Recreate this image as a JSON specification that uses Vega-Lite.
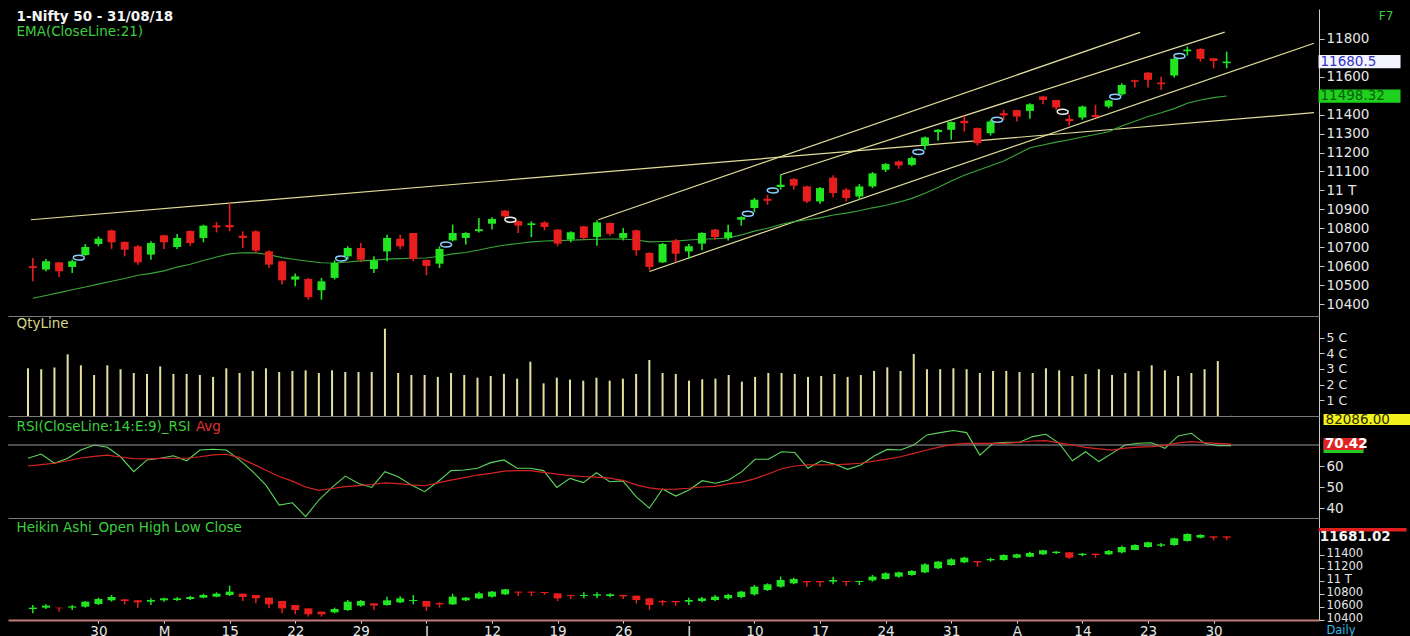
{
"$schema": "https://vega.github.io/schema/vega-lite/v6.json",
"background": "#000000",
"padding": {"left": 7, "top": 9, "right": 0, "bottom": 0},
"spacing": 0,
"bounds": "flush",
"config": {
  "view": {"stroke": null},
  "axis": {"grid": false, "labelFont": "DejaVu Sans", "labelFontSize": 13.5, "labelColor": "#e6e6e6", "domainColor": "#c8c8c8", "tickColor": "#c8c8c8", "labelOverlap": false, "labelSeparation": -20, "labelFlush": false},
  "title": {"anchor": "start", "frame": "group", "font": "DejaVu Sans", "fontSize": 13.5, "fontWeight": "normal", "dx": 8.5}
},
"datasets": {
  "bars": [
{"i":0,"o":10600,"h":10643,"l":10520,"c":10590,"ema":10430,"q":30400000,"rsi":63.7,"avg":60.0,"ho":10569,"hh":10631,"hl":10503,"hc":10590},
{"i":1,"o":10582,"h":10638,"l":10573,"c":10626,"ema":10445,"q":29800000,"rsi":65.7,"avg":60.7,"ho":10590,"hh":10641,"hl":10569,"hc":10621},
{"i":2,"o":10620,"h":10620,"l":10543,"c":10573,"ema":10460,"q":30900000,"rsi":61.3,"avg":61.3,"ho":10590,"hh":10590,"hl":10528,"hc":10580},
{"i":3,"o":10596,"h":10634,"l":10564,"c":10626,"ema":10475,"q":39300000,"rsi":63.7,"avg":62.5,"ho":10590,"hh":10631,"hl":10554,"hc":10610},
{"i":4,"o":10659,"h":10717,"l":10655,"c":10701,"ema":10490,"q":32300000,"rsi":67.6,"avg":63.8,"ho":10605,"hh":10692,"hl":10590,"hc":10682},
{"i":5,"o":10717,"h":10757,"l":10705,"c":10745,"ema":10505,"q":26100000,"rsi":70.0,"avg":64.6,"ho":10646,"hh":10744,"hl":10631,"hc":10723},
{"i":6,"o":10789,"h":10793,"l":10691,"c":10726,"ema":10520,"q":32300000,"rsi":68.9,"avg":65.2,"ho":10703,"hh":10785,"hl":10682,"hc":10754},
{"i":7,"o":10728,"h":10731,"l":10652,"c":10687,"ema":10535,"q":29800000,"rsi":64.4,"avg":64.3,"ho":10718,"hh":10723,"hl":10641,"hc":10692},
{"i":8,"o":10705,"h":10710,"l":10608,"c":10620,"ema":10552,"q":27400000,"rsi":57.3,"avg":63.5,"ho":10703,"hh":10708,"hl":10590,"hc":10672},
{"i":9,"o":10661,"h":10731,"l":10634,"c":10722,"ema":10562,"q":26800000,"rsi":62.9,"avg":63.4,"ho":10682,"hh":10733,"hl":10631,"hc":10708},
{"i":10,"o":10763,"h":10766,"l":10691,"c":10726,"ema":10575,"q":31600000,"rsi":63.7,"avg":63.6,"ho":10703,"hh":10744,"hl":10682,"hc":10733},
{"i":11,"o":10701,"h":10770,"l":10691,"c":10749,"ema":10595,"q":26800000,"rsi":64.9,"avg":63.7,"ho":10708,"hh":10754,"hl":10692,"hc":10733},
{"i":12,"o":10786,"h":10789,"l":10708,"c":10722,"ema":10610,"q":26800000,"rsi":62.5,"avg":63.7,"ho":10723,"hh":10774,"hl":10708,"hc":10754},
{"i":13,"o":10749,"h":10819,"l":10726,"c":10814,"ema":10630,"q":26100000,"rsi":67.6,"avg":64.4,"ho":10744,"hh":10805,"hl":10733,"hc":10785},
{"i":14,"o":10815,"h":10833,"l":10778,"c":10805,"ema":10648,"q":24900000,"rsi":68.0,"avg":65.3,"ho":10759,"hh":10826,"hl":10749,"hc":10805},
{"i":15,"o":10817,"h":10933,"l":10784,"c":10805,"ema":10665,"q":30400000,"rsi":67.6,"avg":65.6,"ho":10785,"hh":10928,"hl":10769,"hc":10836},
{"i":16,"o":10761,"h":10784,"l":10696,"c":10749,"ema":10671,"q":27400000,"rsi":62.9,"avg":64.0,"ho":10805,"hh":10805,"hl":10692,"hc":10754},
{"i":17,"o":10784,"h":10789,"l":10670,"c":10682,"ema":10670,"q":28700000,"rsi":57.3,"avg":61.0,"ho":10785,"hh":10785,"hl":10656,"hc":10733},
{"i":18,"o":10678,"h":10684,"l":10590,"c":10608,"ema":10660,"q":30400000,"rsi":50.9,"avg":58.0,"ho":10744,"hh":10744,"hl":10579,"hc":10641},
{"i":19,"o":10626,"h":10629,"l":10503,"c":10525,"ema":10645,"q":28000000,"rsi":41.4,"avg":55.0,"ho":10692,"hh":10692,"hl":10503,"hc":10579},
{"i":20,"o":10529,"h":10561,"l":10494,"c":10546,"ema":10635,"q":28700000,"rsi":42.5,"avg":52.8,"ho":10631,"hh":10631,"hl":10487,"hc":10554},
{"i":21,"o":10532,"h":10538,"l":10423,"c":10436,"ema":10626,"q":29100000,"rsi":35.9,"avg":50.0,"ho":10579,"hh":10579,"hl":10451,"hc":10487},
{"i":22,"o":10473,"h":10538,"l":10423,"c":10520,"ema":10618,"q":27400000,"rsi":43.8,"avg":48.4,"ho":10528,"hh":10528,"hl":10451,"hc":10487},
{"i":23,"o":10538,"h":10631,"l":10529,"c":10617,"ema":10617,"q":29100000,"rsi":49.8,"avg":49.3,"ho":10518,"hh":10590,"hl":10503,"hc":10569},
{"i":24,"o":10652,"h":10705,"l":10634,"c":10696,"ema":10622,"q":28000000,"rsi":55.2,"avg":50.2,"ho":10554,"hh":10708,"hl":10538,"hc":10682},
{"i":25,"o":10696,"h":10722,"l":10620,"c":10634,"ema":10628,"q":28000000,"rsi":51.7,"avg":50.7,"ho":10621,"hh":10708,"hl":10605,"hc":10692},
{"i":26,"o":10585,"h":10652,"l":10564,"c":10631,"ema":10632,"q":28000000,"rsi":49.8,"avg":51.2,"ho":10656,"hh":10656,"hl":10554,"hc":10621},
{"i":27,"o":10678,"h":10766,"l":10626,"c":10749,"ema":10637,"q":55600000,"rsi":57.3,"avg":52.0,"ho":10631,"hh":10759,"hl":10621,"hc":10703},
{"i":28,"o":10745,"h":10766,"l":10691,"c":10705,"ema":10640,"q":27400000,"rsi":54.9,"avg":51.6,"ho":10672,"hh":10764,"hl":10656,"hc":10733},
{"i":29,"o":10775,"h":10775,"l":10626,"c":10638,"ema":10642,"q":26100000,"rsi":50.9,"avg":51.0,"ho":10692,"hh":10785,"hl":10641,"hc":10708},
{"i":30,"o":10633,"h":10634,"l":10552,"c":10601,"ema":10643,"q":26100000,"rsi":47.8,"avg":50.6,"ho":10692,"hh":10692,"hl":10538,"hc":10605},
{"i":31,"o":10613,"h":10705,"l":10590,"c":10691,"ema":10652,"q":24900000,"rsi":52.5,"avg":52.0,"ho":10661,"hh":10672,"hl":10590,"hc":10641},
{"i":32,"o":10736,"h":10819,"l":10731,"c":10775,"ema":10665,"q":27400000,"rsi":57.8,"avg":53.3,"ho":10641,"hh":10805,"hl":10631,"hc":10759},
{"i":33,"o":10749,"h":10779,"l":10714,"c":10775,"ema":10672,"q":26100000,"rsi":58.1,"avg":54.5,"ho":10703,"hh":10754,"hl":10692,"hc":10744},
{"i":34,"o":10785,"h":10854,"l":10778,"c":10795,"ema":10685,"q":24400000,"rsi":58.9,"avg":55.7,"ho":10733,"hh":10836,"hl":10723,"hc":10810},
{"i":35,"o":10824,"h":10858,"l":10793,"c":10849,"ema":10700,"q":25500000,"rsi":61.6,"avg":56.5,"ho":10759,"hh":10846,"hl":10744,"hc":10836},
{"i":36,"o":10893,"h":10895,"l":10854,"c":10863,"ema":10712,"q":26800000,"rsi":62.9,"avg":57.6,"ho":10795,"hh":10877,"hl":10785,"hc":10872},
{"i":37,"o":10838,"h":10842,"l":10775,"c":10814,"ema":10720,"q":23800000,"rsi":58.9,"avg":57.8,"ho":10836,"hh":10836,"hl":10769,"hc":10821},
{"i":38,"o":10817,"h":10837,"l":10754,"c":10826,"ema":10728,"q":34600000,"rsi":58.9,"avg":57.8,"ho":10836,"hh":10836,"hl":10769,"hc":10821},
{"i":39,"o":10831,"h":10837,"l":10789,"c":10807,"ema":10733,"q":20800000,"rsi":57.8,"avg":57.0,"ho":10831,"hh":10831,"hl":10785,"hc":10816},
{"i":40,"o":10793,"h":10796,"l":10705,"c":10719,"ema":10735,"q":24400000,"rsi":49.8,"avg":56.1,"ho":10810,"hh":10810,"hl":10692,"hc":10733},
{"i":41,"o":10740,"h":10784,"l":10726,"c":10779,"ema":10737,"q":23200000,"rsi":54.1,"avg":55.4,"ho":10785,"hh":10785,"hl":10723,"hc":10769},
{"i":42,"o":10810,"h":10814,"l":10740,"c":10749,"ema":10740,"q":22500000,"rsi":52.1,"avg":55.0,"ho":10769,"hh":10826,"hl":10733,"hc":10785},
{"i":43,"o":10754,"h":10842,"l":10708,"c":10831,"ema":10742,"q":24400000,"rsi":56.8,"avg":54.7,"ho":10774,"hh":10826,"hl":10733,"hc":10795},
{"i":44,"o":10828,"h":10831,"l":10761,"c":10771,"ema":10743,"q":22500000,"rsi":52.5,"avg":54.2,"ho":10769,"hh":10810,"hl":10749,"hc":10795},
{"i":45,"o":10749,"h":10801,"l":10736,"c":10775,"ema":10743,"q":23800000,"rsi":52.9,"avg":53.2,"ho":10785,"hh":10785,"hl":10723,"hc":10764},
{"i":46,"o":10789,"h":10793,"l":10656,"c":10684,"ema":10738,"q":26800000,"rsi":45.4,"avg":51.0,"ho":10774,"hh":10774,"hl":10656,"hc":10708},
{"i":47,"o":10670,"h":10673,"l":10578,"c":10596,"ema":10728,"q":35700000,"rsi":39.9,"avg":49.6,"ho":10733,"hh":10733,"hl":10554,"hc":10631},
{"i":48,"o":10620,"h":10722,"l":10617,"c":10717,"ema":10730,"q":27400000,"rsi":49.1,"avg":48.9,"ho":10692,"hh":10708,"hl":10621,"hc":10672},
{"i":49,"o":10736,"h":10743,"l":10620,"c":10666,"ema":10732,"q":26800000,"rsi":45.7,"avg":49.0,"ho":10692,"hh":10692,"hl":10621,"hc":10672},
{"i":50,"o":10678,"h":10717,"l":10638,"c":10705,"ema":10738,"q":22500000,"rsi":48.6,"avg":49.4,"ho":10682,"hh":10744,"hl":10631,"hc":10708},
{"i":51,"o":10719,"h":10779,"l":10684,"c":10775,"ema":10742,"q":23400000,"rsi":53.0,"avg":50.0,"ho":10692,"hh":10754,"hl":10672,"hc":10733},
{"i":52,"o":10793,"h":10796,"l":10740,"c":10754,"ema":10745,"q":23800000,"rsi":51.8,"avg":50.3,"ho":10708,"hh":10785,"hl":10692,"hc":10759},
{"i":53,"o":10749,"h":10819,"l":10736,"c":10779,"ema":10749,"q":26100000,"rsi":53.3,"avg":51.5,"ho":10733,"hh":10805,"hl":10713,"hc":10785},
{"i":54,"o":10845,"h":10863,"l":10814,"c":10859,"ema":10765,"q":21900000,"rsi":57.3,"avg":52.3,"ho":10754,"hh":10846,"hl":10733,"hc":10836},
{"i":55,"o":10907,"h":10960,"l":10884,"c":10951,"ema":10785,"q":24900000,"rsi":63.2,"avg":54.0,"ho":10795,"hh":10938,"hl":10774,"hc":10913},
{"i":56,"o":10956,"h":10977,"l":10924,"c":10945,"ema":10800,"q":27400000,"rsi":63.2,"avg":56.2,"ho":10862,"hh":10964,"hl":10846,"hc":10949},
{"i":57,"o":11018,"h":11083,"l":11004,"c":11030,"ema":10820,"q":27400000,"rsi":66.8,"avg":58.7,"ho":10913,"hh":11067,"hl":10897,"hc":11015},
{"i":58,"o":11060,"h":11065,"l":11004,"c":11025,"ema":10835,"q":26800000,"rsi":66.4,"avg":60.0,"ho":10964,"hh":11051,"hl":10949,"hc":11031},
{"i":59,"o":11021,"h":11025,"l":10933,"c":10942,"ema":10845,"q":24900000,"rsi":58.9,"avg":60.5,"ho":11000,"hh":11000,"hl":10913,"hc":10980},
{"i":60,"o":10942,"h":11018,"l":10930,"c":11012,"ema":10855,"q":25500000,"rsi":62.5,"avg":60.5,"ho":11000,"hh":11000,"hl":10913,"hc":10980},
{"i":61,"o":11067,"h":11080,"l":10964,"c":10986,"ema":10870,"q":26800000,"rsi":60.9,"avg":60.6,"ho":10990,"hh":11067,"hl":10949,"hc":11015},
{"i":62,"o":11004,"h":11012,"l":10942,"c":10960,"ema":10880,"q":24900000,"rsi":58.4,"avg":60.9,"ho":11000,"hh":11000,"hl":10928,"hc":10985},
{"i":63,"o":10968,"h":11033,"l":10951,"c":11021,"ema":10893,"q":26100000,"rsi":60.5,"avg":61.3,"ho":10985,"hh":11005,"hl":10938,"hc":11000},
{"i":64,"o":11021,"h":11097,"l":11012,"c":11090,"ema":10908,"q":28700000,"rsi":64.8,"avg":62.3,"ho":11010,"hh":11092,"hl":10990,"hc":11067},
{"i":65,"o":11109,"h":11144,"l":11097,"c":11139,"ema":10920,"q":31000000,"rsi":67.9,"avg":63.3,"ho":11031,"hh":11133,"hl":11021,"hc":11118},
{"i":66,"o":11153,"h":11157,"l":11114,"c":11132,"ema":10938,"q":28700000,"rsi":67.6,"avg":64.4,"ho":11067,"hh":11144,"hl":11051,"hc":11133},
{"i":67,"o":11135,"h":11179,"l":11127,"c":11171,"ema":10958,"q":39500000,"rsi":70.0,"avg":66.0,"ho":11092,"hh":11169,"hl":11082,"hc":11154},
{"i":68,"o":11237,"h":11285,"l":11215,"c":11280,"ema":10985,"q":29800000,"rsi":74.8,"avg":67.6,"ho":11133,"hh":11272,"hl":11118,"hc":11256},
{"i":69,"o":11308,"h":11325,"l":11262,"c":11320,"ema":11015,"q":29800000,"rsi":75.9,"avg":69.1,"ho":11195,"hh":11308,"hl":11185,"hc":11297},
{"i":70,"o":11320,"h":11364,"l":11267,"c":11361,"ema":11050,"q":30400000,"rsi":76.9,"avg":70.3,"ho":11246,"hh":11349,"hl":11236,"hc":11333},
{"i":71,"o":11368,"h":11394,"l":11311,"c":11355,"ema":11080,"q":29800000,"rsi":75.9,"avg":70.8,"ho":11287,"hh":11374,"hl":11272,"hc":11359},
{"i":72,"o":11329,"h":11332,"l":11237,"c":11250,"ema":11105,"q":27400000,"rsi":65.2,"avg":70.8,"ho":11308,"hh":11308,"hl":11220,"hc":11287},
{"i":73,"o":11302,"h":11373,"l":11290,"c":11364,"ema":11130,"q":28700000,"rsi":70.8,"avg":70.8,"ho":11318,"hh":11359,"hl":11297,"hc":11338},
{"i":74,"o":11408,"h":11426,"l":11373,"c":11396,"ema":11155,"q":28700000,"rsi":71.3,"avg":70.8,"ho":11323,"hh":11410,"hl":11313,"hc":11400},
{"i":75,"o":11424,"h":11426,"l":11364,"c":11390,"ema":11190,"q":28000000,"rsi":71.3,"avg":71.3,"ho":11359,"hh":11420,"hl":11349,"hc":11410},
{"i":76,"o":11420,"h":11461,"l":11378,"c":11455,"ema":11225,"q":27400000,"rsi":74.0,"avg":71.9,"ho":11374,"hh":11451,"hl":11364,"hc":11431},
{"i":77,"o":11496,"h":11500,"l":11455,"c":11478,"ema":11240,"q":30400000,"rsi":75.1,"avg":72.1,"ho":11410,"hh":11482,"hl":11400,"hc":11472},
{"i":78,"o":11478,"h":11478,"l":11426,"c":11438,"ema":11255,"q":29100000,"rsi":70.8,"avg":71.0,"ho":11431,"hh":11461,"hl":11415,"hc":11451},
{"i":79,"o":11378,"h":11399,"l":11343,"c":11366,"ema":11268,"q":25500000,"rsi":62.5,"avg":70.0,"ho":11441,"hh":11441,"hl":11338,"hc":11359},
{"i":80,"o":11385,"h":11448,"l":11373,"c":11443,"ema":11282,"q":26800000,"rsi":66.8,"avg":68.9,"ho":11400,"hh":11431,"hl":11379,"hc":11420},
{"i":81,"o":11398,"h":11452,"l":11382,"c":11388,"ema":11295,"q":29800000,"rsi":62.1,"avg":68.2,"ho":11420,"hh":11420,"hl":11359,"hc":11400},
{"i":82,"o":11443,"h":11478,"l":11434,"c":11475,"ema":11310,"q":26100000,"rsi":66.0,"avg":67.6,"ho":11410,"hh":11477,"hl":11400,"hc":11461},
{"i":83,"o":11508,"h":11566,"l":11501,"c":11557,"ema":11340,"q":27400000,"rsi":70.0,"avg":68.5,"ho":11441,"hh":11544,"hl":11426,"hc":11523},
{"i":84,"o":11582,"h":11584,"l":11543,"c":11574,"ema":11365,"q":28700000,"rsi":70.8,"avg":69.0,"ho":11477,"hh":11564,"hl":11472,"hc":11554},
{"i":85,"o":11622,"h":11624,"l":11543,"c":11584,"ema":11390,"q":32300000,"rsi":71.1,"avg":69.2,"ho":11523,"hh":11605,"hl":11513,"hc":11595},
{"i":86,"o":11570,"h":11601,"l":11531,"c":11561,"ema":11410,"q":29100000,"rsi":68.4,"avg":69.8,"ho":11544,"hh":11585,"hl":11523,"hc":11564},
{"i":87,"o":11607,"h":11702,"l":11596,"c":11695,"ema":11432,"q":25500000,"rsi":74.3,"avg":71.0,"ho":11554,"hh":11667,"hl":11544,"hc":11656},
{"i":88,"o":11735,"h":11760,"l":11712,"c":11744,"ema":11460,"q":27400000,"rsi":75.6,"avg":71.6,"ho":11615,"hh":11733,"hl":11605,"hc":11723},
{"i":89,"o":11747,"h":11751,"l":11680,"c":11695,"ema":11478,"q":29800000,"rsi":70.8,"avg":71.1,"ho":11667,"hh":11718,"hl":11656,"hc":11708},
{"i":90,"o":11698,"h":11698,"l":11645,"c":11684,"ema":11490,"q":35000000,"rsi":69.7,"avg":70.8,"ho":11687,"hh":11687,"hl":11626,"hc":11667},
{"i":91,"o":11672,"h":11733,"l":11645,"c":11680.5,"ema":11498.32,"q":82086,"rsi":69.7,"avg":70.42,"ho":11687,"hh":11687,"hl":11626,"hc":11667}
  ],
  "trend": [
    {"line":"A","i":-0.15,"v":10845},{"line":"A","i":97.655,"v":11411},
    {"line":"B","i":43.1,"v":10845},{"line":"B","i":84.4,"v":11835},
    {"line":"C","i":57,"v":11083},{"line":"C","i":90.85,"v":11836},
    {"line":"D","i":47,"v":10572},{"line":"D","i":97.655,"v":11777}
  ],
  "rings": [
    {"i":3.5,"v":10645,"kind":"blue"},{"i":23.5,"v":10640,"kind":"blue"},{"i":31.5,"v":10714,"kind":"blue"},
    {"i":36.4,"v":10845,"kind":"white"},{"i":54.5,"v":10877,"kind":"blue"},{"i":56.4,"v":11000,"kind":"blue"},
    {"i":67.5,"v":11203,"kind":"blue"},{"i":73.5,"v":11373,"kind":"blue"},{"i":78.5,"v":11415,"kind":"white"},
    {"i":82.5,"v":11495,"kind":"blue"},{"i":87.4,"v":11710,"kind":"blue"}
  ],
  "tags": [
    {"label":"11680.5","v":11680.5,"kind":"close"},
    {"label":"11498.32","v":11498.32,"kind":"ema"}
  ]
},
"vconcat": [
{
  "width": 1311, "height": 307,
  "title": {"text": "1-Nifty 50 - 31/08/18", "subtitle": "EMA(CloseLine:21)", "color": "#f4f4f4", "fontWeight": "bold", "subtitleColor": "#3ccf3c", "subtitleFont": "DejaVu Sans", "subtitleFontSize": 13.5, "subtitlePadding": 1, "offset": -29},
  "layer": [
    {
      "data": {"name": "trend"},
      "mark": {"type": "line", "color": "#e3dd9a", "strokeWidth": 1.2, "clip": true},
      "encoding": {
        "x": {"field": "i", "type": "quantitative", "title": null, "scale": {"domain": [-1.513, 97.655], "nice": false, "zero": false}, "axis": {"orient": "bottom", "labels": false, "ticks": false, "domain": true, "domainColor": "#7a7a7a"}},
        "y": {"field": "v", "type": "quantitative", "title": null, "scale": {"domain": [10336.7, 11958.2], "nice": false, "zero": false}, "axis": {"orient": "right", "values": [10400,10500,10600,10700,10800,10900,11000,11100,11200,11300,11400,11600,11800], "labelExpr": "datum.value == 11000 ? '11 T' : format(datum.value, 'd')", "tickSize": 5, "labelPadding": 2, "labelOverlap": false, "labelSeparation": -20, "labelFontSize": 13.5}},
        "detail": {"field": "line", "type": "nominal"}
      }
    },
    {
      "data": {"name": "bars"},
      "mark": {"type": "line", "color": "#3aa63a", "strokeWidth": 1.1},
      "encoding": {
        "x": {"field": "i", "type": "quantitative", "title": null, "axis": {"orient": "bottom", "labels": false, "ticks": false, "domain": true, "domainColor": "#7a7a7a"}},
        "y": {"field": "ema", "type": "quantitative", "title": null, "axis": {"orient": "right", "values": [10400,10500,10600,10700,10800,10900,11000,11100,11200,11300,11400,11600,11800], "labelExpr": "datum.value == 11000 ? '11 T' : format(datum.value, 'd')", "tickSize": 5, "labelPadding": 2, "labelOverlap": false, "labelSeparation": -20, "labelFontSize": 13.5}}
      }
    },
    {
      "data": {"name": "bars"},
      "mark": {"type": "rule", "strokeWidth": 1.6},
      "encoding": {
        "x": {"field": "i", "type": "quantitative", "title": null, "axis": {"orient": "bottom", "labels": false, "ticks": false, "domain": true, "domainColor": "#7a7a7a"}},
        "y": {"field": "l", "type": "quantitative", "title": null, "axis": {"orient": "right", "values": [10400,10500,10600,10700,10800,10900,11000,11100,11200,11300,11400,11600,11800], "labelExpr": "datum.value == 11000 ? '11 T' : format(datum.value, 'd')", "tickSize": 5, "labelPadding": 2, "labelOverlap": false, "labelSeparation": -20, "labelFontSize": 13.5}},
        "y2": {"field": "h"},
        "color": {"condition": {"test": "datum.c >= datum.o", "value": "#22e622"}, "value": "#e81e1e"}
      }
    },
    {
      "data": {"name": "bars"},
      "mark": {"type": "bar", "width": 8},
      "encoding": {
        "x": {"field": "i", "type": "quantitative", "title": null, "axis": {"orient": "bottom", "labels": false, "ticks": false, "domain": true, "domainColor": "#7a7a7a"}},
        "y": {"field": "o", "type": "quantitative", "title": null, "axis": {"orient": "right", "values": [10400,10500,10600,10700,10800,10900,11000,11100,11200,11300,11400,11600,11800], "labelExpr": "datum.value == 11000 ? '11 T' : format(datum.value, 'd')", "tickSize": 5, "labelPadding": 2, "labelOverlap": false, "labelSeparation": -20, "labelFontSize": 13.5}},
        "y2": {"field": "c"},
        "color": {"condition": {"test": "datum.c >= datum.o", "value": "#22e622"}, "value": "#e81e1e"}
      }
    },
    {
      "data": {"name": "rings"},
      "mark": {"type": "point", "shape": "M-1,0A1,0.45 0 1,0 1,0A1,0.45 0 1,0 -1,0Z", "filled": false, "size": 121, "strokeWidth": 1.5, "opacity": 1},
      "encoding": {
        "x": {"field": "i", "type": "quantitative", "title": null, "axis": {"orient": "bottom", "labels": false, "ticks": false, "domain": true, "domainColor": "#7a7a7a"}},
        "y": {"field": "v", "type": "quantitative", "title": null, "axis": {"orient": "right", "values": [10400,10500,10600,10700,10800,10900,11000,11100,11200,11300,11400,11600,11800], "labelExpr": "datum.value == 11000 ? '11 T' : format(datum.value, 'd')", "tickSize": 5, "labelPadding": 2, "labelOverlap": false, "labelSeparation": -20, "labelFontSize": 13.5}},
        "stroke": {"field": "kind", "type": "nominal", "scale": {"domain": ["blue", "white"], "range": ["#8ccfff", "#f2f2f2"]}, "legend": null}
      }
    },
    {
      "data": {"name": "tags"},
      "mark": {"type": "point", "shape": "M0,-0.16L2,-0.16L2,0.16L0,0.16Z", "filled": true, "size": 6724, "opacity": 1, "strokeWidth": 0},
      "encoding": {
        "x": {"datum": 98.0, "type": "quantitative", "title": null, "axis": {"orient": "bottom", "labels": false, "ticks": false, "domain": true, "domainColor": "#7a7a7a"}},
        "y": {"field": "v", "type": "quantitative", "title": null, "axis": {"orient": "right", "values": [10400,10500,10600,10700,10800,10900,11000,11100,11200,11300,11400,11600,11800], "labelExpr": "datum.value == 11000 ? '11 T' : format(datum.value, 'd')", "tickSize": 5, "labelPadding": 2, "labelOverlap": false, "labelSeparation": -20, "labelFontSize": 13.5}},
        "fill": {"field": "kind", "type": "nominal", "scale": {"domain": ["close", "ema"], "range": ["#f4f4ff", "#1fd11f"]}, "legend": null}
      }
    },
    {
      "data": {"name": "tags"},
      "mark": {"type": "text", "align": "left", "baseline": "middle", "font": "DejaVu Sans", "fontSize": 13.5},
      "encoding": {
        "x": {"datum": 98.15, "type": "quantitative", "title": null, "axis": {"orient": "bottom", "labels": false, "ticks": false, "domain": true, "domainColor": "#7a7a7a"}},
        "y": {"field": "v", "type": "quantitative", "title": null, "axis": {"orient": "right", "values": [10400,10500,10600,10700,10800,10900,11000,11100,11200,11300,11400,11600,11800], "labelExpr": "datum.value == 11000 ? '11 T' : format(datum.value, 'd')", "tickSize": 5, "labelPadding": 2, "labelOverlap": false, "labelSeparation": -20, "labelFontSize": 13.5}},
        "text": {"field": "label"},
        "color": {"condition": {"test": "datum.kind == 'close'", "value": "#3232c8"}, "value": "#0b5e0b"}
      }
    },
    {
      "data": {"values": [{}]},
      "mark": {"type": "text", "align": "left", "baseline": "middle", "font": "DejaVu Sans", "fontSize": 12, "color": "#3ccf3c"},
      "encoding": {
        "x": {"datum": 102.6, "type": "quantitative", "title": null, "axis": {"orient": "bottom", "labels": false, "ticks": false, "domain": true, "domainColor": "#7a7a7a"}},
        "y": {"datum": 11920, "type": "quantitative", "title": null, "axis": {"orient": "right", "values": [10400,10500,10600,10700,10800,10900,11000,11100,11200,11300,11400,11600,11800], "labelExpr": "datum.value == 11000 ? '11 T' : format(datum.value, 'd')", "tickSize": 5, "labelPadding": 2, "labelOverlap": false, "labelSeparation": -20, "labelFontSize": 13.5}},
        "text": {"value": "F7"}
      }
    }
  ]
},
{
  "width": 1311, "height": 100,
  "title": {"text": "QtyLine", "color": "#d8d88c", "offset": -14.5},
  "layer": [
    {
      "data": {"name": "bars"},
      "mark": {"type": "rule", "color": "#e4e0a0", "strokeWidth": 2},
      "encoding": {
        "x": {"field": "i", "type": "quantitative", "title": null, "scale": {"domain": [-1.513, 97.655], "nice": false, "zero": false}, "axis": {"orient": "bottom", "labels": false, "ticks": false, "domain": true, "domainColor": "#7a7a7a"}},
        "y": {"field": "q", "type": "quantitative", "title": null, "scale": {"domain": [0, 63700000], "nice": false, "zero": false}, "axis": {"orient": "right", "values": [10000000, 20000000, 30000000, 40000000, 50000000], "labelExpr": "(datum.value / 10000000) + ' C'", "tickSize": 5, "labelPadding": 2, "labelOverlap": false, "labelSeparation": -20, "labelFontSize": 12.5}},
        "y2": {"datum": 0}
      }
    },
    {
      "data": {"values": [{}]},
      "mark": {"type": "point", "shape": "M0,-0.125L2,-0.125L2,0.125L0,0.125Z", "filled": true, "size": 7744, "opacity": 1, "strokeWidth": 0, "color": "#f2f21e"},
      "encoding": {
        "x": {"datum": 98.0, "type": "quantitative", "title": null, "axis": {"orient": "bottom", "labels": false, "ticks": false, "domain": true, "domainColor": "#7a7a7a"}},
        "y": {"datum": -2230000, "type": "quantitative", "title": null, "axis": {"orient": "right", "values": [10000000, 20000000, 30000000, 40000000, 50000000], "labelExpr": "(datum.value / 10000000) + ' C'", "tickSize": 5, "labelPadding": 2, "labelOverlap": false, "labelSeparation": -20, "labelFontSize": 12.5}}
      }
    },
    {
      "data": {"values": [{}]},
      "mark": {"type": "text", "align": "left", "baseline": "middle", "font": "DejaVu Sans", "fontSize": 13.5, "color": "#2a2a00"},
      "encoding": {
        "x": {"datum": 98.15, "type": "quantitative", "title": null, "axis": {"orient": "bottom", "labels": false, "ticks": false, "domain": true, "domainColor": "#7a7a7a"}},
        "y": {"datum": -2230000, "type": "quantitative", "title": null, "axis": {"orient": "right", "values": [10000000, 20000000, 30000000, 40000000, 50000000], "labelExpr": "(datum.value / 10000000) + ' C'", "tickSize": 5, "labelPadding": 2, "labelOverlap": false, "labelSeparation": -20, "labelFontSize": 12.5}},
        "text": {"value": "82086.00"}
      }
    }
  ]
},
{
  "width": 1311, "height": 102,
  "title": {"text": "RSI(CloseLine:14:E:9)_RSI", "color": "#3ccf3c", "offset": -17},
  "layer": [
    {
      "data": {"name": "bars"},
      "mark": {"type": "line", "color": "#5cd65c", "strokeWidth": 1.1},
      "encoding": {
        "x": {"field": "i", "type": "quantitative", "title": null, "scale": {"domain": [-1.513, 97.655], "nice": false, "zero": false}, "axis": {"orient": "bottom", "labels": false, "ticks": false, "domain": true, "domainColor": "#7a7a7a"}},
        "y": {"field": "rsi", "type": "quantitative", "title": null, "scale": {"domain": [35.24, 83.81], "nice": false, "zero": false}, "axis": {"orient": "right", "values": [40, 50, 60], "tickSize": 5, "labelPadding": 2, "labelOverlap": false}}
      }
    },
    {
      "data": {"values": [{}]},
      "mark": {"type": "rule", "color": "#9a9a9a", "strokeWidth": 1},
      "encoding": {
        "y": {"datum": 70, "type": "quantitative", "title": null, "axis": {"orient": "right", "values": [40, 50, 60], "tickSize": 5, "labelPadding": 2, "labelOverlap": false}}
      }
    },
    {
      "data": {"name": "bars"},
      "mark": {"type": "line", "color": "#d42424", "strokeWidth": 1.2},
      "encoding": {
        "x": {"field": "i", "type": "quantitative", "title": null, "axis": {"orient": "bottom", "labels": false, "ticks": false, "domain": true, "domainColor": "#7a7a7a"}},
        "y": {"field": "avg", "type": "quantitative", "title": null, "axis": {"orient": "right", "values": [40, 50, 60], "tickSize": 5, "labelPadding": 2, "labelOverlap": false}}
      }
    },
    {
      "data": {"values": [{}]},
      "mark": {"type": "text", "align": "left", "baseline": "middle", "font": "DejaVu Sans", "fontSize": 13.5, "color": "#e03030"},
      "encoding": {
        "x": {"datum": 12.7, "type": "quantitative", "title": null, "axis": {"orient": "bottom", "labels": false, "ticks": false, "domain": true, "domainColor": "#7a7a7a"}},
        "y": {"datum": 78.6, "type": "quantitative", "title": null, "axis": {"orient": "right", "values": [40, 50, 60], "tickSize": 5, "labelPadding": 2, "labelOverlap": false}},
        "text": {"value": "Avg"}
      }
    },
    {
      "data": {"values": [{}]},
      "mark": {"type": "point", "shape": "M0,-0.3L2,-0.3L2,0.3L0,0.3Z", "filled": true, "size": 1600, "opacity": 1, "strokeWidth": 0, "color": "#22c922"},
      "encoding": {
        "x": {"datum": 98.0, "type": "quantitative", "title": null, "axis": {"orient": "bottom", "labels": false, "ticks": false, "domain": true, "domainColor": "#7a7a7a"}},
        "y": {"datum": 69.0, "type": "quantitative", "title": null, "axis": {"orient": "right", "values": [40, 50, 60], "tickSize": 5, "labelPadding": 2, "labelOverlap": false}}
      }
    },
    {
      "data": {"values": [{}]},
      "mark": {"type": "point", "shape": "M0,-0.3L2,-0.3L2,0.3L0,0.3Z", "filled": true, "size": 1600, "opacity": 1, "strokeWidth": 0, "color": "#e02222"},
      "encoding": {
        "x": {"datum": 98.0, "type": "quantitative", "title": null, "axis": {"orient": "bottom", "labels": false, "ticks": false, "domain": true, "domainColor": "#7a7a7a"}},
        "y": {"datum": 70.42, "type": "quantitative", "title": null, "axis": {"orient": "right", "values": [40, 50, 60], "tickSize": 5, "labelPadding": 2, "labelOverlap": false}}
      }
    },
    {
      "data": {"values": [{}]},
      "mark": {"type": "text", "align": "left", "baseline": "middle", "font": "DejaVu Sans", "fontSize": 13.5, "fontWeight": "bold", "color": "#ffffff"},
      "encoding": {
        "x": {"datum": 98.1, "type": "quantitative", "title": null, "axis": {"orient": "bottom", "labels": false, "ticks": false, "domain": true, "domainColor": "#7a7a7a"}},
        "y": {"datum": 70.42, "type": "quantitative", "title": null, "axis": {"orient": "right", "values": [40, 50, 60], "tickSize": 5, "labelPadding": 2, "labelOverlap": false}},
        "text": {"value": "70.42"}
      }
    }
  ]
},
{
  "width": 1311, "height": 102,
  "title": {"text": "Heikin Ashi_Open High Low Close", "color": "#3ccf3c", "offset": -16.5},
  "layer": [
    {
      "data": {"name": "bars"},
      "mark": {"type": "rule", "strokeWidth": 1.5},
      "encoding": {
        "x": {"field": "i", "type": "quantitative", "title": null, "scale": {"domain": [-1.513, 97.655], "nice": false, "zero": false}, "axis": {"orient": "bottom", "values": [5,10,15,20,25,30,35,40,45,50,55,60,65,70,75,80,85,90], "labelExpr": "['30','M','15','22','29','J','12','19','26','J','10','17','24','31','A','14','23','30'][round(datum.value / 5) - 1]", "domainColor": "#c47a7a", "domainWidth": 2, "tickColor": "#e0e0e0", "tickSize": 3, "labelPadding": 1, "labelOverlap": false}},
        "y": {"field": "hl", "type": "quantitative", "title": null, "scale": {"domain": [10400, 11969], "nice": false, "zero": false}, "axis": {"orient": "right", "values": [10400, 10600, 10800, 11000, 11200, 11400], "labelExpr": "datum.value == 11000 ? '11 T' : format(datum.value, 'd')", "tickSize": 5, "labelPadding": 2, "labelFontSize": 11.5, "labelOffset": -1.5, "labelOverlap": false, "labelSeparation": -20}},
        "y2": {"field": "hh"},
        "color": {"condition": {"test": "datum.hc >= datum.ho", "value": "#22e622"}, "value": "#e81e1e"}
      }
    },
    {
      "data": {"name": "bars"},
      "mark": {"type": "bar", "width": 8},
      "encoding": {
        "x": {"field": "i", "type": "quantitative", "title": null, "axis": {"orient": "bottom", "values": [5,10,15,20,25,30,35,40,45,50,55,60,65,70,75,80,85,90], "labelExpr": "['30','M','15','22','29','J','12','19','26','J','10','17','24','31','A','14','23','30'][round(datum.value / 5) - 1]", "domainColor": "#c47a7a", "domainWidth": 2, "tickColor": "#e0e0e0", "tickSize": 3, "labelPadding": 1, "labelOverlap": false}},
        "y": {"field": "ho", "type": "quantitative", "title": null, "axis": {"orient": "right", "values": [10400, 10600, 10800, 11000, 11200, 11400], "labelExpr": "datum.value == 11000 ? '11 T' : format(datum.value, 'd')", "tickSize": 5, "labelPadding": 2, "labelFontSize": 11.5, "labelOffset": -1.5, "labelOverlap": false, "labelSeparation": -20}},
        "y2": {"field": "hc"},
        "color": {"condition": {"test": "datum.hc >= datum.ho", "value": "#22e622"}, "value": "#e81e1e"}
      }
    },
    {
      "data": {"values": [{}]},
      "mark": {"type": "point", "shape": "M0,-0.04L2,-0.04L2,0.04L0,0.04Z", "filled": true, "size": 7744, "opacity": 1, "strokeWidth": 0, "color": "#e02020"},
      "encoding": {
        "x": {"datum": 98.0, "type": "quantitative", "title": null, "axis": {"orient": "bottom", "values": [5,10,15,20,25,30,35,40,45,50,55,60,65,70,75,80,85,90], "labelExpr": "['30','M','15','22','29','J','12','19','26','J','10','17','24','31','A','14','23','30'][round(datum.value / 5) - 1]", "domainColor": "#c47a7a", "domainWidth": 2, "tickColor": "#e0e0e0", "tickSize": 3, "labelPadding": 1, "labelOverlap": false}},
        "y": {"datum": 11790, "type": "quantitative", "title": null, "axis": {"orient": "right", "values": [10400, 10600, 10800, 11000, 11200, 11400], "labelExpr": "datum.value == 11000 ? '11 T' : format(datum.value, 'd')", "tickSize": 5, "labelPadding": 2, "labelFontSize": 11.5, "labelOffset": -1.5, "labelOverlap": false, "labelSeparation": -20}}
      }
    },
    {
      "data": {"values": [{}]},
      "mark": {"type": "text", "align": "left", "baseline": "middle", "font": "DejaVu Sans", "fontSize": 13.5, "fontWeight": "bold", "color": "#f2f2f2"},
      "encoding": {
        "x": {"datum": 98.1, "type": "quantitative", "title": null, "axis": {"orient": "bottom", "values": [5,10,15,20,25,30,35,40,45,50,55,60,65,70,75,80,85,90], "labelExpr": "['30','M','15','22','29','J','12','19','26','J','10','17','24','31','A','14','23','30'][round(datum.value / 5) - 1]", "domainColor": "#c47a7a", "domainWidth": 2, "tickColor": "#e0e0e0", "tickSize": 3, "labelPadding": 1, "labelOverlap": false}},
        "y": {"datum": 11681.02, "type": "quantitative", "title": null, "axis": {"orient": "right", "values": [10400, 10600, 10800, 11000, 11200, 11400], "labelExpr": "datum.value == 11000 ? '11 T' : format(datum.value, 'd')", "tickSize": 5, "labelPadding": 2, "labelFontSize": 11.5, "labelOffset": -1.5, "labelOverlap": false, "labelSeparation": -20}},
        "text": {"value": "11681.02"}
      }
    },
    {
      "data": {"values": [{}]},
      "mark": {"type": "text", "align": "left", "baseline": "middle", "font": "DejaVu Sans", "fontSize": 11.5, "color": "#38b6e0"},
      "encoding": {
        "x": {"datum": 98.6, "type": "quantitative", "title": null, "axis": {"orient": "bottom", "values": [5,10,15,20,25,30,35,40,45,50,55,60,65,70,75,80,85,90], "labelExpr": "['30','M','15','22','29','J','12','19','26','J','10','17','24','31','A','14','23','30'][round(datum.value / 5) - 1]", "domainColor": "#c47a7a", "domainWidth": 2, "tickColor": "#e0e0e0", "tickSize": 3, "labelPadding": 1, "labelOverlap": false}},
        "y": {"datum": 10238, "type": "quantitative", "title": null, "axis": {"orient": "right", "values": [10400, 10600, 10800, 11000, 11200, 11400], "labelExpr": "datum.value == 11000 ? '11 T' : format(datum.value, 'd')", "tickSize": 5, "labelPadding": 2, "labelFontSize": 11.5, "labelOffset": -1.5, "labelOverlap": false, "labelSeparation": -20}},
        "text": {"value": "Daily"}
      }
    }
  ]
}
]
}
